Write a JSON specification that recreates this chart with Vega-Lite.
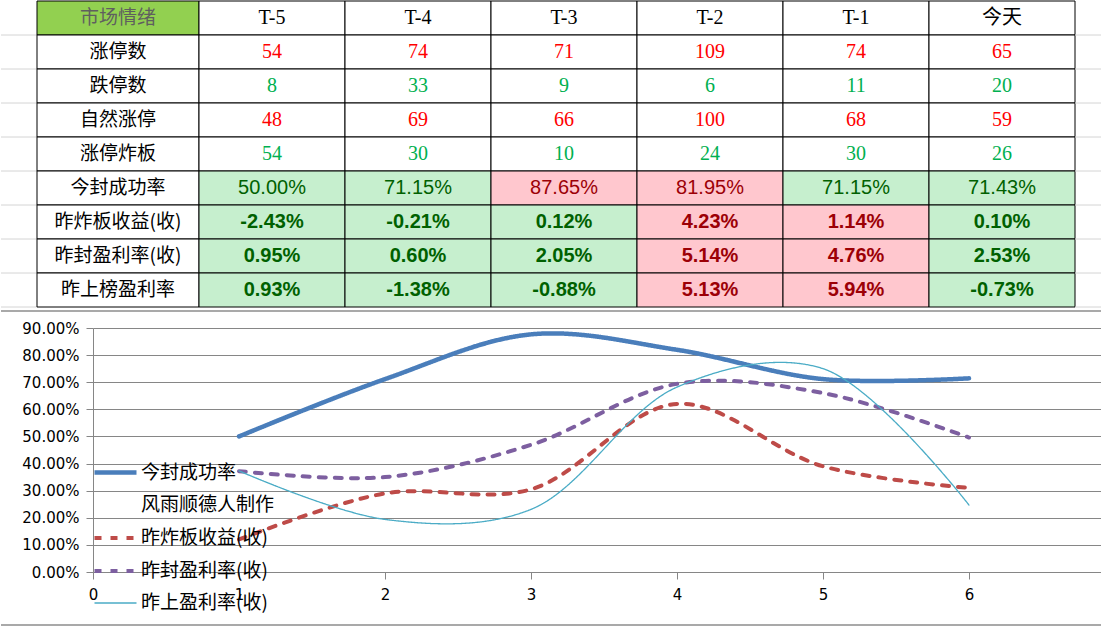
{
  "$schema": "https://vega.github.io/schema/vega-lite/v6.json",
  "background": "white",
  "padding": 0,
  "spacing": 2,
  "config": {"view": {"stroke": null}, "font": "Noto Sans CJK SC"},
  "resolve": {"scale": {"color": "independent", "fill": "independent", "stroke": "independent", "strokeDash": "independent", "strokeWidth": "independent"}},
  "datasets": {
    "labels": [
      {"row": "市场情绪", "tone": "title"},
      {"row": "涨停数", "tone": "name"},
      {"row": "跌停数", "tone": "name"},
      {"row": "自然涨停", "tone": "name"},
      {"row": "涨停炸板", "tone": "name"},
      {"row": "今封成功率", "tone": "name"},
      {"row": "昨炸板收益(收)", "tone": "name"},
      {"row": "昨封盈利率(收)", "tone": "name"},
      {"row": "昨上榜盈利率", "tone": "name"}
    ],
    "cells": [
      {"row": "市场情绪", "col": "T-5", "txt": "T-5", "tone": "header"},
      {"row": "市场情绪", "col": "T-4", "txt": "T-4", "tone": "header"},
      {"row": "市场情绪", "col": "T-3", "txt": "T-3", "tone": "header"},
      {"row": "市场情绪", "col": "T-2", "txt": "T-2", "tone": "header"},
      {"row": "市场情绪", "col": "T-1", "txt": "T-1", "tone": "header"},
      {"row": "市场情绪", "col": "今天", "txt": "今天", "tone": "header"},
      {"row": "涨停数", "col": "T-5", "txt": "54", "tone": "up"},
      {"row": "涨停数", "col": "T-4", "txt": "74", "tone": "up"},
      {"row": "涨停数", "col": "T-3", "txt": "71", "tone": "up"},
      {"row": "涨停数", "col": "T-2", "txt": "109", "tone": "up"},
      {"row": "涨停数", "col": "T-1", "txt": "74", "tone": "up"},
      {"row": "涨停数", "col": "今天", "txt": "65", "tone": "up"},
      {"row": "跌停数", "col": "T-5", "txt": "8", "tone": "down"},
      {"row": "跌停数", "col": "T-4", "txt": "33", "tone": "down"},
      {"row": "跌停数", "col": "T-3", "txt": "9", "tone": "down"},
      {"row": "跌停数", "col": "T-2", "txt": "6", "tone": "down"},
      {"row": "跌停数", "col": "T-1", "txt": "11", "tone": "down"},
      {"row": "跌停数", "col": "今天", "txt": "20", "tone": "down"},
      {"row": "自然涨停", "col": "T-5", "txt": "48", "tone": "up"},
      {"row": "自然涨停", "col": "T-4", "txt": "69", "tone": "up"},
      {"row": "自然涨停", "col": "T-3", "txt": "66", "tone": "up"},
      {"row": "自然涨停", "col": "T-2", "txt": "100", "tone": "up"},
      {"row": "自然涨停", "col": "T-1", "txt": "68", "tone": "up"},
      {"row": "自然涨停", "col": "今天", "txt": "59", "tone": "up"},
      {"row": "涨停炸板", "col": "T-5", "txt": "54", "tone": "down"},
      {"row": "涨停炸板", "col": "T-4", "txt": "30", "tone": "down"},
      {"row": "涨停炸板", "col": "T-3", "txt": "10", "tone": "down"},
      {"row": "涨停炸板", "col": "T-2", "txt": "24", "tone": "down"},
      {"row": "涨停炸板", "col": "T-1", "txt": "30", "tone": "down"},
      {"row": "涨停炸板", "col": "今天", "txt": "26", "tone": "down"},
      {"row": "今封成功率", "col": "T-5", "txt": "50.00%", "tone": "low"},
      {"row": "今封成功率", "col": "T-4", "txt": "71.15%", "tone": "low"},
      {"row": "今封成功率", "col": "T-3", "txt": "87.65%", "tone": "high"},
      {"row": "今封成功率", "col": "T-2", "txt": "81.95%", "tone": "high"},
      {"row": "今封成功率", "col": "T-1", "txt": "71.15%", "tone": "low"},
      {"row": "今封成功率", "col": "今天", "txt": "71.43%", "tone": "low"},
      {"row": "昨炸板收益(收)", "col": "T-5", "txt": "-2.43%", "tone": "low"},
      {"row": "昨炸板收益(收)", "col": "T-4", "txt": "-0.21%", "tone": "low"},
      {"row": "昨炸板收益(收)", "col": "T-3", "txt": "0.12%", "tone": "low"},
      {"row": "昨炸板收益(收)", "col": "T-2", "txt": "4.23%", "tone": "high"},
      {"row": "昨炸板收益(收)", "col": "T-1", "txt": "1.14%", "tone": "high"},
      {"row": "昨炸板收益(收)", "col": "今天", "txt": "0.10%", "tone": "low"},
      {"row": "昨封盈利率(收)", "col": "T-5", "txt": "0.95%", "tone": "low"},
      {"row": "昨封盈利率(收)", "col": "T-4", "txt": "0.60%", "tone": "low"},
      {"row": "昨封盈利率(收)", "col": "T-3", "txt": "2.05%", "tone": "low"},
      {"row": "昨封盈利率(收)", "col": "T-2", "txt": "5.14%", "tone": "high"},
      {"row": "昨封盈利率(收)", "col": "T-1", "txt": "4.76%", "tone": "high"},
      {"row": "昨封盈利率(收)", "col": "今天", "txt": "2.53%", "tone": "low"},
      {"row": "昨上榜盈利率", "col": "T-5", "txt": "0.93%", "tone": "low"},
      {"row": "昨上榜盈利率", "col": "T-4", "txt": "-1.38%", "tone": "low"},
      {"row": "昨上榜盈利率", "col": "T-3", "txt": "-0.88%", "tone": "low"},
      {"row": "昨上榜盈利率", "col": "T-2", "txt": "5.13%", "tone": "high"},
      {"row": "昨上榜盈利率", "col": "T-1", "txt": "5.94%", "tone": "high"},
      {"row": "昨上榜盈利率", "col": "今天", "txt": "-0.73%", "tone": "low"}
    ],
    "lines": [
      {"series": "今封成功率", "x": 1, "v": 0.5},
      {"series": "今封成功率", "x": 2, "v": 0.7115},
      {"series": "今封成功率", "x": 3, "v": 0.8765},
      {"series": "今封成功率", "x": 4, "v": 0.8195},
      {"series": "今封成功率", "x": 5, "v": 0.7115},
      {"series": "今封成功率", "x": 6, "v": 0.7143},
      {"series": "昨炸板收益(收)", "x": 1, "v": 0.12},
      {"series": "昨炸板收益(收)", "x": 2, "v": 0.29},
      {"series": "昨炸板收益(收)", "x": 3, "v": 0.305},
      {"series": "昨炸板收益(收)", "x": 4, "v": 0.62},
      {"series": "昨炸板收益(收)", "x": 5, "v": 0.39},
      {"series": "昨炸板收益(收)", "x": 6, "v": 0.31},
      {"series": "昨封盈利率(收)", "x": 1, "v": 0.372},
      {"series": "昨封盈利率(收)", "x": 2, "v": 0.35},
      {"series": "昨封盈利率(收)", "x": 3, "v": 0.469},
      {"series": "昨封盈利率(收)", "x": 4, "v": 0.694},
      {"series": "昨封盈利率(收)", "x": 5, "v": 0.66},
      {"series": "昨封盈利率(收)", "x": 6, "v": 0.496},
      {"series": "昨上盈利率(收)", "x": 1, "v": 0.373},
      {"series": "昨上盈利率(收)", "x": 2, "v": 0.194},
      {"series": "昨上盈利率(收)", "x": 3, "v": 0.231},
      {"series": "昨上盈利率(收)", "x": 4, "v": 0.682},
      {"series": "昨上盈利率(收)", "x": 5, "v": 0.75},
      {"series": "昨上盈利率(收)", "x": 6, "v": 0.247}
    ],
    "blank": [{"k": 1}]
  },
  "vconcat": [
    {
      "spacing": 0,
      "bounds": "flush",
      "resolve": {"scale": {"color": "independent", "fill": "independent"}},
      "hconcat": [
        {
          "width": 36, "height": 306,
          "data": {"name": "labels"},
          "mark": {"type": "rule", "color": "#d4d4d4", "strokeWidth": 1},
          "encoding": {
            "y": {"field": "row", "type": "nominal", "bandPosition": 1, "axis": null,
                  "scale": {"domain": ["市场情绪","涨停数","跌停数","自然涨停","涨停炸板","今封成功率","昨炸板收益(收)","昨封盈利率(收)","昨上榜盈利率"], "paddingInner": 0, "paddingOuter": 0}}
          }
        },
        {
          "width": 162, "height": 306,
          "data": {"name": "labels"},
          "encoding": {
            "x": {"datum": "项目", "type": "nominal", "axis": null, "scale": {"paddingInner": 0, "paddingOuter": 0}},
            "y": {"field": "row", "type": "nominal", "axis": null,
                  "scale": {"domain": ["市场情绪","涨停数","跌停数","自然涨停","涨停炸板","今封成功率","昨炸板收益(收)","昨封盈利率(收)","昨上榜盈利率"], "paddingInner": 0, "paddingOuter": 0}}
          },
          "layer": [
            {
              "mark": {"type": "rect", "stroke": "#000000", "strokeWidth": 1},
              "encoding": {
                "fill": {"field": "tone", "type": "nominal", "legend": null,
                         "scale": {"domain": ["title","name","header","up","down","high","low"], "range": ["#92d050","#ffffff","#ffffff","#ffffff","#ffffff","#ffc7ce","#c6efce"]}}
              }
            },
            {
              "mark": {"type": "text", "font": "Noto Sans CJK SC", "fontSize": 19, "baseline": "middle", "align": "center"},
              "encoding": {
                "text": {"field": "row", "type": "nominal"},
                "color": {"field": "tone", "type": "nominal", "legend": null,
                          "scale": {"domain": ["title","name","header","up","down","high","low"], "range": ["#5f5f5f","#000000","#000000","#ff0000","#00b050","#9c0006","#006100"]}}
              }
            }
          ]
        },
        {
          "width": 876, "height": 306,
          "data": {"name": "cells"},
          "encoding": {
            "x": {"field": "col", "type": "nominal", "axis": null,
                  "scale": {"domain": ["T-5","T-4","T-3","T-2","T-1","今天"], "paddingInner": 0, "paddingOuter": 0}},
            "y": {"field": "row", "type": "nominal", "axis": null,
                  "scale": {"domain": ["市场情绪","涨停数","跌停数","自然涨停","涨停炸板","今封成功率","昨炸板收益(收)","昨封盈利率(收)","昨上榜盈利率"], "paddingInner": 0, "paddingOuter": 0}}
          },
          "layer": [
            {
              "mark": {"type": "rect", "stroke": "#000000", "strokeWidth": 1},
              "encoding": {
                "fill": {"field": "tone", "type": "nominal", "legend": null,
                         "scale": {"domain": ["title","name","header","up","down","high","low"], "range": ["#92d050","#ffffff","#ffffff","#ffffff","#ffffff","#ffc7ce","#c6efce"]}}
              }
            },
            {
              "transform": [{"filter": {"field": "tone", "oneOf": ["header","up","down"]}}],
              "mark": {"type": "text", "font": "Liberation Serif, Noto Sans CJK SC", "fontSize": 20, "baseline": "middle", "align": "center"},
              "encoding": {
                "text": {"field": "txt", "type": "nominal"},
                "color": {"field": "tone", "type": "nominal", "legend": null,
                          "scale": {"domain": ["title","name","header","up","down","high","low"], "range": ["#5f5f5f","#000000","#000000","#ff0000","#00b050","#9c0006","#006100"]}}
              }
            },
            {
              "transform": [{"filter": {"field": "row", "equal": "今封成功率"}}],
              "mark": {"type": "text", "font": "Liberation Sans", "fontSize": 20, "baseline": "middle", "align": "center"},
              "encoding": {
                "text": {"field": "txt", "type": "nominal"},
                "color": {"field": "tone", "type": "nominal", "legend": null,
                          "scale": {"domain": ["title","name","header","up","down","high","low"], "range": ["#5f5f5f","#000000","#000000","#ff0000","#00b050","#9c0006","#006100"]}}
              }
            },
            {
              "transform": [{"filter": {"field": "row", "oneOf": ["昨炸板收益(收)","昨封盈利率(收)","昨上榜盈利率"]}}],
              "mark": {"type": "text", "font": "Liberation Sans", "fontSize": 20, "fontWeight": "bold", "baseline": "middle", "align": "center"},
              "encoding": {
                "text": {"field": "txt", "type": "nominal"},
                "color": {"field": "tone", "type": "nominal", "legend": null,
                          "scale": {"domain": ["title","name","header","up","down","high","low"], "range": ["#5f5f5f","#000000","#000000","#ff0000","#00b050","#9c0006","#006100"]}}
              }
            }
          ]
        },
        {
          "width": 27, "height": 306,
          "data": {"name": "labels"},
          "mark": {"type": "rule", "color": "#d4d4d4", "strokeWidth": 1},
          "encoding": {
            "y": {"field": "row", "type": "nominal", "bandPosition": 1, "axis": null,
                  "scale": {"domain": ["市场情绪","涨停数","跌停数","自然涨停","涨停炸板","今封成功率","昨炸板收益(收)","昨封盈利率(收)","昨上榜盈利率"], "paddingInner": 0, "paddingOuter": 0}}
          }
        }
      ]
    },
    {
      "spacing": 0,
      "bounds": "flush",
      "hconcat": [
        {
          "width": 92, "height": 244,
          "data": {"name": "blank"},
          "layer": [
            {"mark": {"type": "rule", "color": "#8c8c8c", "strokeWidth": 1.5},
             "encoding": {"y": {"datum": 0.9627, "type": "quantitative", "scale": {"domain": [0, 0.9], "nice": false}, "axis": null}}},
            {"mark": {"type": "rule", "color": "#8c8c8c", "strokeWidth": 1.5},
             "encoding": {"y": {"datum": -0.1955, "type": "quantitative", "scale": {"domain": [0, 0.9], "nice": false}, "axis": null}}}
          ]
        },
        {
          "width": 1009, "height": 244,
          "resolve": {"axis": {"y": "independent"}},
          "layer": [
            {
              "data": {"name": "lines"},
              "mark": {"type": "line", "interpolate": "catmull-rom", "strokeCap": "round", "strokeJoin": "round"},
              "encoding": {
                "x": {"field": "x", "type": "quantitative",
                      "scale": {"domain": [0, 6.911], "nice": false, "zero": false},
                      "axis": {"values": [0,1,2,3,4,5,6], "format": "d", "title": null, "grid": false, "labelFlush": false,
                               "labelFont": "DejaVu Sans", "labelFontSize": 15, "labelColor": "#000000", "labelPadding": 8,
                               "tickSize": 7, "tickColor": "#868686", "domainColor": "#868686"}},
                "y": {"field": "v", "type": "quantitative",
                      "scale": {"domain": [0, 0.9], "nice": false},
                      "axis": {"values": [0,0.1,0.2,0.3,0.4,0.5,0.6,0.7,0.8,0.9], "format": ".2%", "title": null, "grid": true,
                               "gridColor": "#868686", "labelFont": "DejaVu Sans", "labelFontSize": 15, "labelColor": "#000000", "labelPadding": 7,
                               "tickSize": 7, "tickColor": "#868686", "domainColor": "#868686"}},
                "stroke": {"field": "series", "type": "nominal",
                           "scale": {"domain": ["今封成功率","风雨顺德人制作","昨炸板收益(收)","昨封盈利率(收)","昨上盈利率(收)"],
                                     "range": ["#4a7ebb","transparent","#be4b48","#7d5fa0","#4bacc6"]},
                           "legend": {"orient": "none", "legendX": 91, "legendY": 121, "title": null, "symbolType": "stroke", "symbolSize": 1764,
                                      "labelFont": "Noto Sans CJK SC", "labelFontSize": 19, "labelColor": "#000000", "labelOffset": 2,
                                      "rowPadding": 0, "labelLimit": 300, "padding": 0}},
                "strokeDash": {"field": "series", "type": "nominal",
                               "scale": {"domain": ["今封成功率","风雨顺德人制作","昨炸板收益(收)","昨封盈利率(收)","昨上盈利率(收)"],
                                         "range": [[1,0],[1,0],[7,9],[7,9],[1,0]]}},
                "strokeWidth": {"field": "series", "type": "nominal",
                                "scale": {"type": "ordinal", "domain": ["今封成功率","风雨顺德人制作","昨炸板收益(收)","昨封盈利率(收)","昨上盈利率(收)"],
                                          "range": [4.5, 0.1, 4, 4, 1.3]}}
              }
            },
            {
              "data": {"name": "blank"},
              "mark": {"type": "rule", "color": "#8c8c8c", "strokeWidth": 1.5},
              "encoding": {"y": {"datum": 0.9627, "type": "quantitative", "axis": null}}
            },
            {
              "data": {"name": "blank"},
              "mark": {"type": "rule", "color": "#8c8c8c", "strokeWidth": 1.5},
              "encoding": {"y": {"datum": -0.1955, "type": "quantitative", "axis": null}}
            }
          ]
        }
      ]
    }
  ]
}
